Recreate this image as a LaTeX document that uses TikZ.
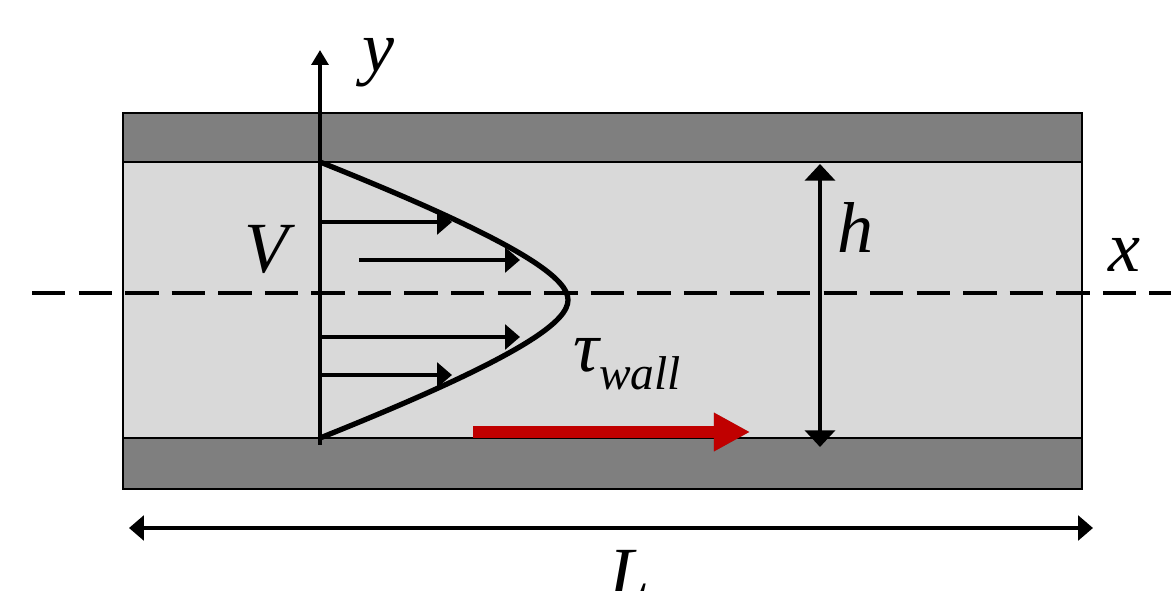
\documentclass[tikz,border=0pt]{standalone}
\usepackage{fontspec}
\setmainfont{Liberation Serif}
\usetikzlibrary{arrows.meta}
\definecolor{wallgray}{HTML}{7F7F7F}
\definecolor{fluidgray}{HTML}{D9D9D9}
\definecolor{shearred}{HTML}{C00000}
\tikzset{
  lbl/.style={font=\fontsize{41}{41}\selectfont\itshape, anchor=base, inner sep=0pt},
  wallbox/.style={draw, line width=1.1pt},
  velarrow/.style={line width=2.3pt, -{Triangle[length=8.5pt, width=14pt]}},
  dimarrow/.style={line width=2.7pt, {Triangle[length=9.5pt, width=17pt]}-{Triangle[length=9.5pt, width=17pt]}},
}
\begin{document}
\begin{tikzpicture}[x=0.02cm, y=-0.02cm]
    \useasboundingbox (0,0) rectangle (1171,591);
    \draw[wallbox, fill=wallgray] (123,113) rectangle (1082,162);
    \draw[wallbox, fill=fluidgray] (123,162) rectangle (1082,438);
    \draw[wallbox, fill=wallgray] (123,438) rectangle (1082,489);
    \coordinate (cl0) at (32,293); \coordinate (cl1) at (1171,293);
    \draw[line width=2.6pt, dash pattern=on 19pt off 7.5pt] (cl0) -- (cl1);
    \coordinate (axisbot) at (320,445); \coordinate (axistop) at (320,50);
    \draw[line width=2.8pt, -{Triangle[length=8.5pt, width=9.5pt]}] (axisbot) -- (axistop);
    \coordinate (ptop) at (320,162); \coordinate (ptip) at (568,300); \coordinate (pbot) at (320,438);
    \draw[line width=3pt, line join=round] (ptop) .. controls (530,246) and (568,280) .. (ptip)
        .. controls (568,320) and (530,354) .. (pbot);
    \foreach \vy/\vs/\ve [count=\i] in {222/322/452, 260/359/520, 337/322/520, 375/322/452} {
        \coordinate (v\i s) at (\vs,\vy); \coordinate (v\i e) at (\ve,\vy);
        \draw[velarrow] (v\i s) -- (v\i e);
    }
    \coordinate (htop) at (820,164); \coordinate (hbot) at (820,447);
    \draw[dimarrow] (htop) -- (hbot);
    \coordinate (Lleft) at (129,528); \coordinate (Lright) at (1093,528);
    \draw[line width=2.6pt, {Triangle[length=8.5pt, width=14pt]}-{Triangle[length=8.5pt, width=14pt]}] (Lleft) -- (Lright);
    \coordinate (tau0) at (473,432); \coordinate (tau1) at (750,432);
    \draw[line width=6.8pt, -{Triangle[length=20.5pt, width=20.5pt]}, black, opacity=0.25, shift={(3,5)}] (tau0) -- (tau1);
    \draw[line width=6.8pt, -{Triangle[length=20.5pt, width=20.5pt]}, shearred] (tau0) -- (tau1);
    \node[lbl] (ylab) at (378,72) {y};
    \node[lbl] (Vlab) at (267,273) {V};
    \node[lbl] (hlab) at (856,253) {h};
    \node[lbl] (xlab) at (1124,272) {x};
    \node[lbl, anchor=base west] (taulab) at (573,372) {τ\raisebox{-9.7pt}{\fontsize{27}{27}\selectfont wall}};
    \node[lbl] (Llab) at (630,598) {L};
\end{tikzpicture}
\end{document}
